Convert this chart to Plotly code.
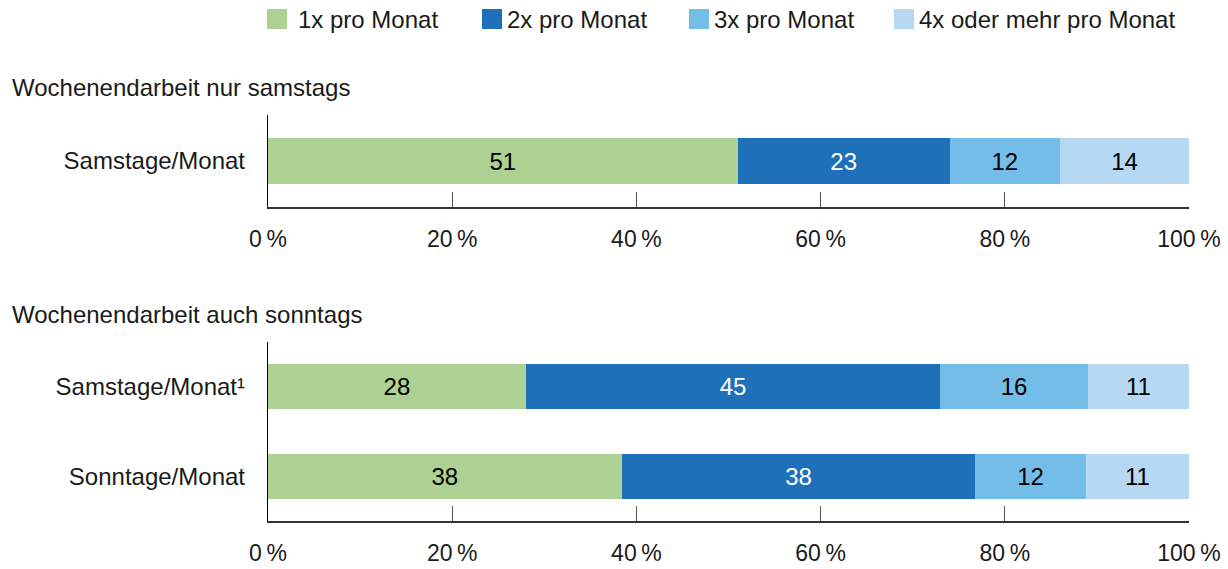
import plotly.graph_objects as go
from plotly.subplots import make_subplots

series_names = ["1x pro Monat", "2x pro Monat", "3x pro Monat", "4x oder mehr pro Monat"]
colors = ["#acd192", "#1e71b8", "#75bde9", "#b6d8f2"]
text_colors = ["black", "white", "black", "black"]

panel1_title = "Wochenendarbeit nur samstags"
panel1_cats = ["Samstage/Monat"]
panel1_vals = [[51], [23], [12], [14]]

panel2_title = "Wochenendarbeit auch sonntags"
panel2_cats = ["Samstage/Monat\u00b9", "Sonntage/Monat"]
panel2_vals = [[28, 38.4], [45, 38.4], [16, 12], [11, 11.2]]

tick_vals = [0, 20, 40, 60, 80, 100]
tick_text = ["0\u2009%", "20\u2009%", "40\u2009%", "60\u2009%", "80\u2009%", "100\u2009%"]

W, H = 1228, 569
L, R = 268, 1189
FONT = "Liberation Sans, Arial, sans-serif"


def px_x(p):
    return (p - L) / (R - L)


def px_y(p):
    return 1 - p / H


fig = make_subplots(rows=2, cols=1)

for i, name in enumerate(series_names):
    for row, cats, vals in [(1, panel1_cats, panel1_vals), (2, panel2_cats, panel2_vals)]:
        fig.add_trace(
            go.Bar(
                name=name, x=vals[i], y=cats, orientation="h",
                marker=dict(color=colors[i], line=dict(width=0)),
                width=0.5,
                texttemplate="%{x:.0f}", textposition="inside",
                insidetextanchor="middle", constraintext="none",
                textfont=dict(family=FONT, size=24, color=text_colors[i]),
                showlegend=False, hoverinfo="skip",
            ),
            row=row, col=1,
        )

fig.update_layout(
    barmode="stack", width=W, height=H,
    margin=dict(l=L, r=W - R, t=0, b=0),
    plot_bgcolor="white", paper_bgcolor="white",
    font=dict(family=FONT, size=24, color="#1a1a1a"),
    showlegend=False,
)

axis_common = dict(
    range=[0, 100], tickvals=tick_vals, ticktext=tick_text,
    ticks="inside", ticklen=15, tickcolor="#555", tickwidth=1,
    showline=True, linecolor="#333", linewidth=1.5,
    showgrid=False, zeroline=False, ticklabelstandoff=11,
    tickfont=dict(family=FONT, size=23, color="#1a1a1a"),
)
ycommon = dict(autorange="reversed", showline=True, linecolor="black", linewidth=1.2,
               ticks="", ticklabelstandoff=17, showgrid=False,
               tickfont=dict(family=FONT, size=24, color="#1a1a1a"))
fig.update_layout(
    xaxis=dict(domain=[0, 1], **axis_common),
    xaxis2=dict(domain=[0, 1], **axis_common),
    yaxis=dict(domain=[px_y(207), px_y(115)], **ycommon),
    yaxis2=dict(domain=[px_y(521), px_y(342)], **ycommon),
)

annotations = []
shapes = []
for title, py in [(panel1_title, 87), (panel2_title, 314)]:
    annotations.append(dict(text=title, xref="paper", yref="paper",
                            x=px_x(10), y=px_y(py), xanchor="left", yanchor="middle",
                            showarrow=False, font=dict(family=FONT, size=24, color="#1a1a1a")))

legend_x = [267, 482, 689, 894]
legend_text_x = [296, 505, 712, 917]
for i, name in enumerate(series_names):
    x0 = legend_x[i]
    shapes.append(dict(type="rect", xref="paper", yref="paper",
                       x0=px_x(x0), x1=px_x(x0 + 20), y0=px_y(29), y1=px_y(9),
                       fillcolor=colors[i], line=dict(width=0)))
    annotations.append(dict(text=name, xref="paper", yref="paper",
                            x=px_x(legend_text_x[i]), y=px_y(20), xanchor="left", yanchor="middle",
                            showarrow=False, font=dict(family=FONT, size=24, color="#1a1a1a")))

fig.update_layout(annotations=annotations, shapes=shapes)
fig.write_html("out.html",
               config={"displayModeBar": False, "staticPlot": True},
               post_script="document.body.style.margin='0';document.body.style.overflow='hidden';")
